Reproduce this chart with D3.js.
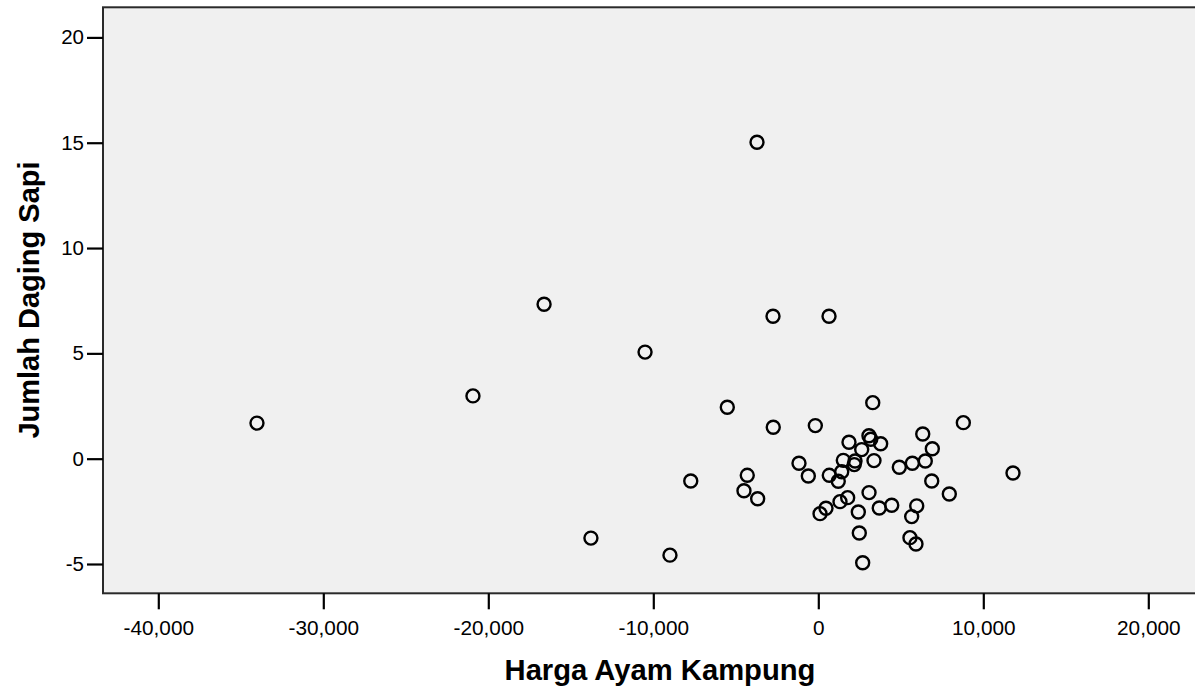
<!DOCTYPE html>
<html>
<head>
<meta charset="utf-8">
<script src="https://cdn.jsdelivr.net/npm/d3@7"></script>
<style>
  html, body { margin: 0; padding: 0; background: #ffffff; }
  svg { display: block; }
  text { font-family: "Liberation Sans", Arial, Helvetica, sans-serif; fill: #000; }
</style>
</head>
<body>
<svg id="chart" width="1195" height="691"></svg>
<script>
// ---- data ----
const hargaAyamKampung = [
  -34020, -20930, -16620, -10500, -3715, -2745, 650, 11800, -7730, -13780,
  -8990, -5515, 3300, 8790, -2730, -180, 6330, 3070, 3180, 3780,
  1860, 2630, 6910, 1515, 2225, 2180, 3375, -1170, 4910, 5700,
  6485, -605, 665, 1420, 1210, -4305, -4505, -3675, 6875, 7940,
  3075, 1780, 1315, 465, 105, 2425, 3695, 4450, 5965, 5660,
  2485, 5555, 5920, 2690
];
const jumlahDagingSapi = [
  1.69, 2.98, 7.33, 5.06, 15.02, 6.76, 6.76, -0.68, -1.06, -3.77,
  -4.58, 2.44, 2.66, 1.71, 1.49, 1.57, 1.17, 1.09, 0.92, 0.71,
  0.78, 0.43, 0.47, -0.08, -0.11, -0.28, -0.09, -0.22, -0.41, -0.22,
  -0.11, -0.82, -0.79, -0.62, -1.07, -0.79, -1.52, -1.90, -1.06, -1.68,
  -1.61, -1.85, -2.04, -2.35, -2.61, -2.53, -2.34, -2.21, -2.24, -2.75,
  -3.53, -3.75, -4.05, -4.94
];
const xTicks = [-40000, -30000, -20000, -10000, 0, 10000, 20000];
const yTicks = [-5, 0, 5, 10, 15, 20];
const xTitle = "Harga Ayam Kampung";
const yTitle = "Jumlah Daging Sapi";

// ---- layout ----
const plot = { left: 103, top: 7.3, right: 1197, bottom: 593.3 };
const svg = d3.select("#chart");

const x = d3.scaleLinear().domain([-40000, 20000]).range([158.3, 1148.3]);
const y = d3.scaleLinear().domain([-5, 20]).range([564.0, 37.4]);

const fmt = v => d3.format(",")(v).replace("\u2212", "-");

// plot background
svg.append("rect")
  .attr("x", plot.left).attr("y", plot.top)
  .attr("width", plot.right - plot.left)
  .attr("height", plot.bottom - plot.top)
  .attr("fill", "#f0f0f0")
  .attr("stroke", "#2a2a2a")
  .attr("stroke-width", 2);

// axes
const xAxis = d3.axisBottom(x)
  .tickValues(xTicks)
  .tickFormat(fmt)
  .tickSize(16)
  .tickPadding(11);
const gx = svg.append("g")
  .attr("transform", `translate(0,${plot.bottom})`)
  .call(xAxis);
gx.select(".domain").remove();
gx.selectAll(".tick line").attr("stroke", "#000").attr("stroke-width", 2.2);
gx.selectAll(".tick text").attr("font-size", 20.8).attr("fill", "#000")
  .style("font-family", '"Liberation Sans", Arial, sans-serif');

const yAxis = d3.axisLeft(y)
  .tickValues(yTicks)
  .tickFormat(fmt)
  .tickSize(16)
  .tickPadding(3);
const gy = svg.append("g")
  .attr("transform", `translate(${plot.left},0)`)
  .call(yAxis);
gy.select(".domain").remove();
gy.selectAll(".tick line").attr("stroke", "#000").attr("stroke-width", 2.2);
gy.selectAll(".tick text").attr("font-size", 20.5).attr("fill", "#000")
  .style("font-family", '"Liberation Sans", Arial, sans-serif');

// points
const pts = hargaAyamKampung.map((v, i) => [v, jumlahDagingSapi[i]]);
svg.append("g")
  .selectAll("circle")
  .data(pts)
  .join("circle")
  .attr("cx", d => x(d[0]))
  .attr("cy", d => y(d[1]))
  .attr("r", 6.5)
  .attr("fill", "none")
  .attr("stroke", "#000")
  .attr("stroke-width", 2.4);

// titles
svg.append("text")
  .attr("x", 660).attr("y", 680)
  .attr("text-anchor", "middle")
  .attr("font-size", 29.2)
  .attr("font-weight", "bold")
  .text(xTitle);

svg.append("text")
  .attr("transform", "translate(38.5,300) rotate(-90)")
  .attr("text-anchor", "middle")
  .attr("font-size", 29)
  .attr("font-weight", "bold")
  .text(yTitle);
</script>
</body>
</html>
